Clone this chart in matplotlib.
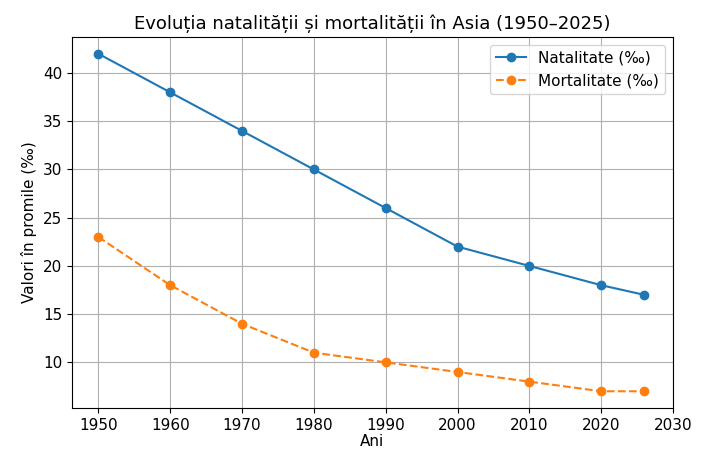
import matplotlib
matplotlib.use("Agg")
from matplotlib import pyplot as plt

ani = [1950, 1960, 1970, 1980, 1990, 2000, 2010, 2020, 2026]
natalitate = [42, 38, 34, 30, 26, 22, 20, 18, 17]
mortalitate = [23, 18, 14, 11, 10, 9, 8, 7, 7]

fig = plt.figure(figsize=(7.04, 4.5), dpi=100)
ax = fig.add_axes([0.102, 0.093, 0.854, 0.825])

ax.plot(ani, natalitate, marker='o', linestyle='-', label='Natalitate (‰)')
ax.plot(ani, mortalitate, marker='o', linestyle='--', label='Mortalitate (‰)')

ax.set_title('Evoluția natalității și mortalității în Asia (1950–2025)', fontsize=13)
ax.set_xlabel('Ani', fontsize=11, labelpad=1)
ax.set_ylabel('Valori în promile (‰)', fontsize=11)
ax.set_xticks([1950, 1960, 1970, 1980, 1990, 2000, 2010, 2020, 2030])
ax.set_xlim(1946.3, 2030)
ax.tick_params(labelsize=11)
ax.grid(True)
ax.legend(fontsize=11)

fig.savefig('out.png')
